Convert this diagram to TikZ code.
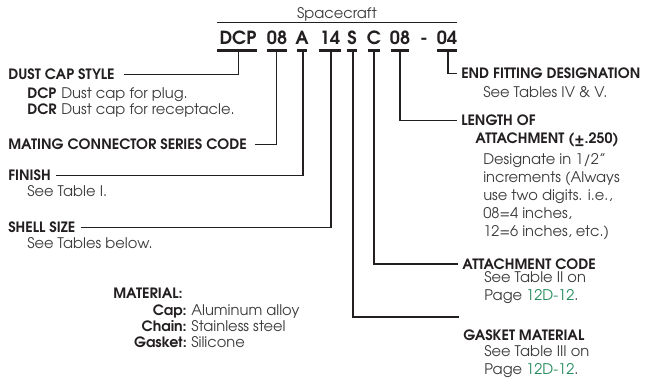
\documentclass[tikz,border=0pt]{standalone}
\usepackage{fontspec}
\setmainfont{TeX Gyre Adventor}
\definecolor{titlec}{HTML}{231F20}
\definecolor{bodyc}{HTML}{3C3C3C}
\definecolor{linkc}{HTML}{23895A}
\begin{document}
\begin{tikzpicture}[x=0.75pt,y=-0.75pt,
  lbl/.style={anchor=base west, inner sep=0pt, font=\bfseries\fontsize{10.7}{12}\selectfont, text=titlec},
  lblr/.style={anchor=base east, inner sep=0pt, font=\bfseries\fontsize{10.7}{12}\selectfont, text=titlec},
  txt/.style={anchor=base west, inner sep=0pt, font=\fontsize{11}{13.5}\selectfont, text=bodyc, align=left},
  code/.style={anchor=base, inner sep=0pt, font=\bfseries\fontsize{13.6}{15}\selectfont, text=titlec},
  bar/.style={line width=2.4pt, draw=titlec},
  conn/.style={line width=1.1pt, draw=titlec},
  uline/.style={line width=0.8pt, draw=titlec}]
\useasboundingbox (0,0) rectangle (651,384);

% header
\node[anchor=base, inner sep=0pt, font=\fontsize{11}{12}\selectfont, text=bodyc] (title) at (337,18.3) {Spacecraft};
\coordinate (ulL) at (217,22.5);
\coordinate (ulR) at (457,22.5);
\draw[uline] (ulL) -- (ulR);

% code groups
\node[code] (cDCP) at (238,45) {DCP};
\node[code] (c08a) at (277,45) {08};
\node[code] (cA) at (302,45) {A};
\node[code] (c14) at (330,45) {14};
\node[code] (cS) at (352,45) {S};
\node[code] (cC) at (374,45) {C};
\node[code] (c08b) at (400,45) {08};
\node[code] (cdash) at (424,45) {-};
\node[code] (c04) at (447,45) {04};

% bars
\draw[bar] (217,50.5) -- (257,50.5);
\draw[bar] (267,50.5) -- (287,50.5);
\draw[bar] (297,50.5) -- (307,50.5);
\draw[bar] (319,50.5) -- (341,50.5);
\draw[bar] (347,50.5) -- (357,50.5);
\draw[bar] (368,50.5) -- (380,50.5);
\draw[bar] (391,50.5) -- (409,50.5);
\draw[bar] (437,50.5) -- (457,50.5);

\coordinate (sDCP) at (238.5,50.5);
\coordinate (s08a) at (276.5,50.5);
\coordinate (sA) at (303,50.5);
\coordinate (s14) at (331,50.5);
\coordinate (sS) at (353,50.5);
\coordinate (sC) at (374,50.5);
\coordinate (s08b) at (400,50.5);
\coordinate (s04) at (448,50.5);

% left labels
\node[lbl] (dust) at (8,80) {DUST CAP STYLE};
\node[lbl] (kDCP) at (27,99) {DCP};
\node[txt] (vDCP) at (61,99) {Dust cap for plug.};
\node[lbl] (kDCR) at (27,115) {DCR};
\node[txt] (vDCR) at (61,115) {Dust cap for receptacle.};
\node[lbl] (mating) at (8,150) {MATING CONNECTOR SERIES CODE};
\node[lbl] (finish) at (8,181) {FINISH};
\node[txt] (finishd) at (27,196.7) {See Table I.};
\node[lbl] (shell) at (8,232.7) {SHELL SIZE};
\node[txt] (shelld) at (27,248.3) {See Tables below.};

% material
\node[lbl] (mat) at (113,299) {MATERIAL:};
\node[lblr] (kcap) at (187,316) {Cap:};
\node[txt] (vcap) at (191,316) {Aluminum alloy};
\node[lblr] (kchain) at (187,331.7) {Chain:};
\node[txt] (vchain) at (191,331.7) {Stainless steel};
\node[lblr] (kgask) at (187,347.3) {Gasket:};
\node[txt] (vgask) at (191,347.3) {Silicone};

% right labels
\node[lbl] (endf) at (461,79) {END FITTING DESIGNATION};
\node[txt] (endfd) at (483,98) {See Tables IV \& V.};
\node[lbl] (len1) at (461,126) {LENGTH OF};
\node[lbl] (len2) at (475,144) {ATTACHMENT (±.250)};
\node[txt] (lend) at (483,237) {Designate in 1/2\symbol{34}\\increments (Always\\use two digits. i.e.,\\08=4 inches,\\12=6 inches, etc.)};
\node[lbl] (att) at (462,269.5) {ATTACHMENT CODE};
\node[txt] (attd) at (484,301) {See Table II on\\Page \textcolor{linkc}{12D-12}.};
\node[lbl] (gasket) at (463,340.5) {GASKET MATERIAL};
\node[txt] (gasketd) at (484,375) {See Table III on\\Page \textcolor{linkc}{12D-12}.};
\coordinate (gend) at (459,317);

% connectors
\draw[conn] (sDCP) |- ([xshift=7pt]dust.east);
\draw[conn] (s08a) |- ([xshift=6pt]mating.east);
\draw[conn] (sA) |- ([xshift=4pt]finish.east);
\draw[conn] (s14) |- ([xshift=4pt]shell.east);
\draw[conn] (sS) |- (gend);
\draw[conn] (sC) |- ([xshift=-3pt]att.west);
\draw[conn] (s08b) |- ([xshift=-3pt]len1.west);
\draw[conn] (s04) |- ([xshift=-3pt]endf.west);
\end{tikzpicture}
\end{document}
